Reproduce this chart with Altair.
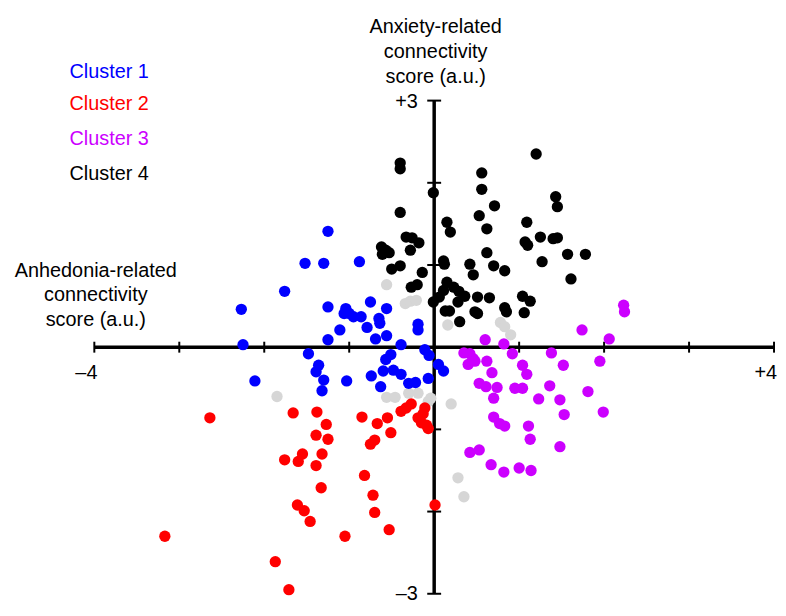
import altair as alt
import pandas as pd

# ---- data ----
cluster_names = ["Unassigned", "Cluster 1", "Cluster 2", "Cluster 3", "Cluster 4"]
cluster_colors = ["#D6D6D6", "#0000FF", "#FF0000", "#CC00FF", "#000000"]

gray_x = [-0.56, -0.34, -0.28, -0.21, 0.16, 0.78, 0.83, 0.90, -1.85, -0.56, -0.46, -0.30, -0.19, -0.07, -0.04, 0.20, 0.28, 0.35]
gray_y = [0.76, 0.53, 0.56, 0.57, 0.27, 0.30, 0.25, 0.15, -0.60, -0.61, -0.61, -0.56, -0.56, -0.66, -0.62, -0.69, -1.59, -1.82]

blue_x = [-1.25, -1.52, -1.30, -0.88, -1.76, -2.27, -1.25, -1.04, -1.00, -1.06, -0.95, -0.86, -0.75, -0.56, -0.65, -0.64,
          -0.79, -1.11, -0.19, -0.19, -1.25, -0.69, -0.56, -2.25, -0.39, -2.11, -1.48, -1.36, -1.39, -1.30, -1.32, -1.03,
          -0.51, -0.57, -0.74, -0.63, -0.60, -0.48, -0.39, -0.30, -0.22, -0.11, -0.06, 0.05, 0.11, -0.07]
blue_y = [1.41, 1.02, 1.02, 1.04, 0.68, 0.46, 0.49, 0.47, 0.41, 0.41, 0.37, 0.37, 0.55, 0.47, 0.35, 0.29,
          0.24, 0.21, 0.28, 0.21, 0.09, 0.10, 0.14, 0.03, 0.03, -0.41, -0.08, -0.22, -0.30, -0.40, -0.53, -0.41,
          -0.09, -0.15, -0.35, -0.48, -0.29, -0.28, -0.33, -0.44, -0.43, -0.03, -0.10, -0.21, -0.29, -0.38]

red_x = [-2.64, -1.66, -1.38, -1.27, -1.39, -1.25, -1.76, -1.60, -1.55, -1.32, -1.39, -1.33, -0.85, -0.67, -0.55, -0.51,
         -0.75, -0.70, -0.82, -0.72, -0.70, -0.53, -1.05, -1.61, -1.53, -1.46, -3.17, -1.87, -1.71, 0.01, -0.39, -0.33,
         -0.27, -0.11, -0.13, -0.19, -0.15, -0.09, -0.07]
red_y = [-0.86, -0.80, -0.79, -0.94, -1.07, -1.12, -1.37, -1.39, -1.30, -1.30, -1.44, -1.71, -0.85, -0.93, -0.86, -1.04,
         -1.18, -1.13, -1.56, -1.80, -2.01, -2.22, -2.30, -1.92, -1.99, -2.12, -2.30, -2.61, -2.95, -1.92, -0.78, -0.74,
         -0.69, -0.74, -0.81, -0.86, -0.92, -0.95, -0.99]

magenta_x = [2.23, 2.24, 1.74, 2.06, 0.60, 0.82, 0.92, 1.38, 0.35, 0.42, 0.46, 0.48, 0.40, 0.62, 1.04, 1.09, 1.52, 1.95,
             0.68, 0.53, 0.61, 0.74, 0.95, 1.04, 1.36, 1.81, 0.70, 1.23, 1.48, 1.53, 1.99, 0.70, 0.77, 0.83, 1.11, 1.13,
             1.48, 0.42, 0.53, 0.67, 0.82, 1.00, 1.14]
magenta_y = [0.51, 0.43, 0.21, 0.10, 0.09, 0.04, -0.08, -0.07, -0.07, -0.08, -0.14, -0.17, -0.21, -0.17, -0.22, -0.33, -0.22, -0.17,
             -0.31, -0.44, -0.48, -0.49, -0.50, -0.50, -0.47, -0.54, -0.62, -0.63, -0.64, -0.82, -0.79, -0.85, -0.93, -0.96, -0.96, -1.12,
             -1.21, -1.28, -1.25, -1.43, -1.52, -1.47, -1.50]

black_x = [-0.40, -0.40, -0.01, -0.40, -0.33, -0.26, -0.18, -0.28, -0.62, -0.57, -0.53, -0.61, -0.40, -0.50, -0.14, -0.20,
           -0.27, -0.01, 1.20, 0.56, 0.56, 0.71, 0.53, 0.15, 0.19, 0.62, 1.43, 1.45, 1.09, 1.07, 1.10, 1.25, 1.40, 1.45,
           0.62, 1.57, 1.78, 0.11, 0.12, 0.42, 0.46, 0.70, 0.83, 1.27, 1.61, 0.15, 0.23, 0.29, 0.11, 0.06, 0.36, 0.51,
           0.65, 0.28, 0.48, 0.51, 0.13, 0.18, 0.30, 0.83, 0.85, 1.04, 1.13, 1.06]
black_y = [2.24, 2.17, 1.88, 1.64, 1.34, 1.33, 1.27, 1.18, 1.22, 1.18, 1.15, 1.13, 0.99, 0.95, 0.91, 0.76,
           0.73, 0.55, 2.35, 2.12, 1.92, 1.72, 1.60, 1.52, 1.40, 1.44, 1.83, 1.71, 1.52, 1.28, 1.24, 1.34, 1.32, 1.33,
           1.15, 1.13, 1.13, 1.05, 1.01, 1.01, 0.88, 0.99, 0.93, 1.04, 0.83, 0.79, 0.73, 0.68, 0.69, 0.61, 0.62, 0.61,
           0.60, 0.55, 0.43, 0.41, 0.44, 0.44, 0.31, 0.48, 0.43, 0.62, 0.56, 0.42]

x_ticks = [-4, -3, -2, -1, 1, 2, 3, 4]
y_ticks = [-3, -2, -1, 1, 2, 3]

# ---- build table ----
series = [(gray_x, gray_y, "Unassigned"), (blue_x, blue_y, "Cluster 1"), (red_x, red_y, "Cluster 2"),
          (magenta_x, magenta_y, "Cluster 3"), (black_x, black_y, "Cluster 4")]
df = pd.concat([pd.DataFrame({"x": xs, "y": ys, "cluster": name}) for xs, ys, name in series], ignore_index=True)

xs = alt.Scale(domain=[-4, 4], nice=False, zero=False)
ys = alt.Scale(domain=[-3, 3], nice=False, zero=False)
FONT = "Liberation Sans"

points = alt.Chart(df).mark_circle(size=130, opacity=1).encode(
    x=alt.X("x:Q", scale=xs, axis=None),
    y=alt.Y("y:Q", scale=ys, axis=None),
    color=alt.Color("cluster:N", scale=alt.Scale(domain=cluster_names, range=cluster_colors), legend=None),
)

x_axis = alt.Chart(pd.DataFrame({"a": [-4], "b": [4], "c": [0]})).mark_rule(strokeWidth=3.5, color="black").encode(
    x=alt.X("a:Q", scale=xs, axis=None), x2="b:Q", y=alt.Y("c:Q", scale=ys, axis=None))
y_axis = alt.Chart(pd.DataFrame({"a": [0], "b": [-3], "c": [3]})).mark_rule(strokeWidth=3.5, color="black").encode(
    x=alt.X("a:Q", scale=xs, axis=None), y=alt.Y("b:Q", scale=ys, axis=None), y2="c:Q")

x_tick_marks = alt.Chart(pd.DataFrame({"t": x_ticks, "z": [0] * len(x_ticks)})).mark_tick(
    orient="vertical", size=11, thickness=2, color="black", opacity=1).encode(
    x=alt.X("t:Q", scale=xs, axis=None), y=alt.Y("z:Q", scale=ys, axis=None))
y_tick_marks = alt.Chart(pd.DataFrame({"t": y_ticks, "z": [0] * len(y_ticks)})).mark_tick(
    orient="horizontal", size=14, thickness=2, color="black", opacity=1).encode(
    x=alt.X("z:Q", scale=xs, axis=None), y=alt.Y("t:Q", scale=ys, axis=None))


def label(text, px, py, color="black", align="center", baseline="alphabetic", size=20):
    return alt.Chart(pd.DataFrame({"t": [text]})).mark_text(
        align=align, baseline=baseline, font=FONT, fontSize=size, color=color).encode(
        x=alt.value(px), y=alt.value(py), text="t:N")


labels = [
    label("Cluster 1", -25, -23, cluster_colors[1], "left"),
    label("Cluster 2", -25, 9, cluster_colors[2], "left"),
    label("Cluster 3", -25, 45, cluster_colors[3], "left"),
    label("Cluster 4", -25, 80, cluster_colors[4], "left"),
    label("Anxiety-related", 344, -68),
    label("connectivity", 344, -43),
    label("score (a.u.)", 344, -18),
    label("Anhedonia-related", 1.5, 178),
    label("connectivity", 1.5, 202),
    label("score (a.u.)", 1.5, 227),
    label("+3", 326, 1, align="right", baseline="middle"),
    label("\u20133", 326, 497, align="right", baseline="middle"),
    label("\u20134", -8, 275, baseline="middle"),
    label("+4", 688, 275, align="right", baseline="middle"),
]

chart = alt.layer(x_axis, y_axis, x_tick_marks, y_tick_marks, points, *labels).properties(
    width=685, height=497, autosize="none",
    padding={"left": 87, "top": 91, "right": 4, "bottom": 8},
).configure_view(stroke=None)

chart.save("out.html", embed_options={"renderer": "svg", "actions": False})
